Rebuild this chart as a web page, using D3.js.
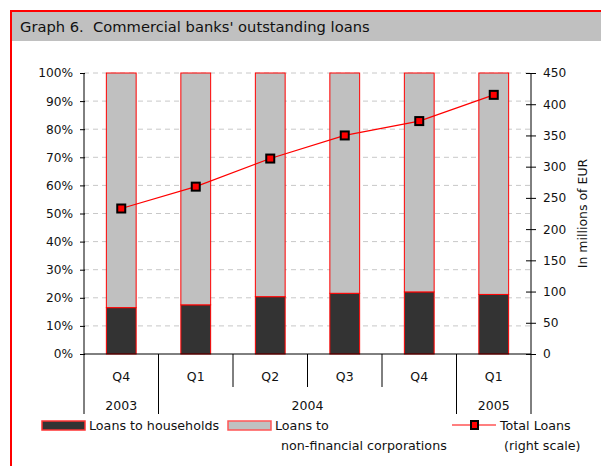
<!DOCTYPE html>
<html lang="en">
<head>
	<meta charset="UTF-8">
	<script type="text/javascript" src="https://d3js.org/d3.v7.min.js"></script>
	<title>Graph 6</title>
	<style>
		body{
			margin: 0;
			background: #fff;
		}
		text{
			font-family: "DejaVu Sans", Verdana, sans-serif;
			fill: #111;
		}
		.grid line{
			stroke: #c8c8c8;
			stroke-width: 1px;
			stroke-dasharray: 5,4;
		}
	</style>
</head>
<body>
<svg id="svg1" width="601" height="466"></svg>
<script>

	// data
	const quarters = ["Q4", "Q1", "Q2", "Q3", "Q4", "Q1"];
	const years = [
		{label: "2003", from: 0, to: 0},
		{label: "2004", from: 1, to: 4},
		{label: "2005", from: 5, to: 5}
	];
	const householdShare = [0.165, 0.175, 0.204, 0.216, 0.221, 0.212];
	const totalLoans = [233, 268, 313, 350, 373, 415];
	const pctTicks = [0, 0.1, 0.2, 0.3, 0.4, 0.5, 0.6, 0.7, 0.8, 0.9, 1];
	const eurTicks = [0, 50, 100, 150, 200, 250, 300, 350, 400, 450];

	const svg = d3.select("#svg1");

	// frame + title band
	svg.append("rect")
		.attr("x", 11).attr("y", 11)
		.attr("width", 620).attr("height", 480)
		.attr("fill", "#fff")
		.attr("stroke", "#ff0000")
		.attr("stroke-width", 2);
	svg.append("rect")
		.attr("x", 12).attr("y", 12)
		.attr("width", 600).attr("height", 29)
		.attr("fill", "#c0c0c0");
	svg.append("text")
		.attr("x", 20).attr("y", 32)
		.style("font-size", "14.7px")
		.style("white-space", "pre")
		.text("Graph 6.  Commercial banks' outstanding loans");

	const pLeft = 84, pRight = 531, pTop = 73, pBottom = 354;

	const x = d3.scaleBand()
		.domain(d3.range(quarters.length))
		.range([pLeft, pRight])
		.paddingInner(0.6)
		.paddingOuter(0.3);
	const yPct = d3.scaleLinear().domain([0, 1]).range([pBottom, pTop]);
	const yEur = d3.scaleLinear().domain([0, 450]).range([pBottom, pTop]);

	// dashed grid
	svg.append("g")
		.attr("class", "grid")
		.selectAll("line")
		.data(pctTicks.slice(1))
		.join("line")
		.attr("x1", pLeft).attr("x2", pRight)
		.attr("y1", d => yPct(d)).attr("y2", d => yPct(d));

	// stacked bars
	const stackData = householdShare.map(function (h, i) {
		return {i: i, households: h, corporations: 1 - h};
	});
	const series = d3.stack().keys(["households", "corporations"])(stackData);
	const fills = {households: "#333333", corporations: "#c0c0c0"};

	svg.append("g")
		.selectAll("g")
		.data(series)
		.join("g")
		.attr("fill", d => fills[d.key])
		.selectAll("rect")
		.data(d => d)
		.join("rect")
		.attr("x", d => x(d.data.i))
		.attr("width", x.bandwidth())
		.attr("y", d => yPct(d[1]))
		.attr("height", d => yPct(d[0]) - yPct(d[1]))
		.attr("stroke", "#ff0000")
		.attr("stroke-width", 1);

	// left axis
	const axisL = svg.append("g")
		.attr("transform", "translate(" + pLeft + ",0)")
		.call(d3.axisLeft(yPct).tickValues(pctTicks).tickFormat(d3.format(".0%")).tickSize(4).tickSizeOuter(0).tickPadding(7));
	axisL.select(".domain").remove();
	axisL.selectAll(".tick line").attr("x2", 1).attr("x1", -4).attr("stroke", "#000");
	axisL.selectAll("text").style("font-size", "12.2px").style("font-family", "DejaVu Sans").attr("fill", "#111");

	// right axis
	const axisR = svg.append("g")
		.attr("transform", "translate(" + pRight + ",0)")
		.call(d3.axisRight(yEur).tickValues(eurTicks).tickSize(5).tickSizeOuter(0).tickPadding(7));
	axisR.select(".domain").remove();
	axisR.selectAll(".tick line").attr("x1", -5).attr("x2", 5).attr("stroke", "#000");
	axisR.selectAll("text").style("font-size", "12.2px").style("font-family", "DejaVu Sans").attr("fill", "#111");

	svg.append("text")
		.attr("transform", "translate(587," + ((pTop + pBottom) / 2) + ") rotate(-90)")
		.attr("text-anchor", "middle")
		.style("font-size", "12.5px")
		.text("In millions of EUR");

	// axis lines
	svg.append("line")
		.attr("x1", pLeft).attr("x2", pLeft).attr("y1", pTop).attr("y2", pBottom)
		.attr("stroke", "#000");
	svg.append("line")
		.attr("x1", pRight).attr("x2", pRight).attr("y1", pTop).attr("y2", pBottom)
		.attr("stroke", "#000");
	svg.append("line")
		.attr("x1", pLeft).attr("x2", pRight).attr("y1", pBottom).attr("y2", pBottom)
		.attr("stroke", "#000");

	// category separators: short between quarters, long at year edges
	const step = x.step();
	const yearEdges = [0];
	years.forEach(y => yearEdges.push(y.to + 1));
	d3.range(quarters.length + 1).forEach(function (k) {
		const xx = pLeft + k * step;
		const isYear = yearEdges.indexOf(k) >= 0;
		svg.append("line")
			.attr("x1", xx).attr("x2", xx)
			.attr("y1", pBottom).attr("y2", isYear ? 414 : 387)
			.attr("stroke", "#000");
	});

	svg.append("g")
		.selectAll("text")
		.data(quarters)
		.join("text")
		.attr("x", (d, i) => x(i) + x.bandwidth() / 2)
		.attr("y", 381)
		.attr("text-anchor", "middle")
		.style("font-size", "12.5px")
		.text(d => d);

	svg.append("g")
		.selectAll("text")
		.data(years)
		.join("text")
		.attr("x", d => pLeft + ((d.from + d.to + 1) / 2) * step)
		.attr("y", 409.5)
		.attr("text-anchor", "middle")
		.style("font-size", "12.5px")
		.text(d => d.label);

	// total loans line
	const line = d3.line()
		.x((d, i) => x(i) + x.bandwidth() / 2)
		.y(d => yEur(d));
	svg.append("path")
		.datum(totalLoans)
		.attr("d", line)
		.attr("fill", "none")
		.attr("stroke", "#ff0000")
		.attr("stroke-width", 1.2);
	svg.append("g")
		.selectAll("rect")
		.data(totalLoans)
		.join("rect")
		.attr("x", (d, i) => x(i) + x.bandwidth() / 2 - 4)
		.attr("y", d => yEur(d) - 4)
		.attr("width", 8).attr("height", 8)
		.attr("fill", "#ff0000")
		.attr("stroke", "#000")
		.attr("stroke-width", 2);

	// legend
	const lg = svg.append("g");
	lg.append("rect").attr("x", 42).attr("y", 421).attr("width", 43).attr("height", 9)
		.attr("fill", "#333333").attr("stroke", "#ff3333").attr("stroke-width", 1.5);
	lg.append("text").attr("x", 89).attr("y", 430).style("font-size", "12.7px").text("Loans to households");
	lg.append("rect").attr("x", 228).attr("y", 421).attr("width", 43).attr("height", 9)
		.attr("fill", "#c0c0c0").attr("stroke", "#ff5555").attr("stroke-width", 1.5);
	lg.append("text").attr("x", 275).attr("y", 430).style("font-size", "12.7px").text("Loans to");
	lg.append("text").attr("x", 281).attr("y", 449.5).style("font-size", "12.7px").text("non-financial corporations");
	lg.append("line").attr("x1", 452).attr("x2", 496).attr("y1", 425).attr("y2", 425)
		.attr("stroke", "#ff0000").attr("stroke-width", 1.2);
	lg.append("rect").attr("x", 471).attr("y", 421).attr("width", 7).attr("height", 8)
		.attr("fill", "#ff0000").attr("stroke", "#000").attr("stroke-width", 2);
	lg.append("text").attr("x", 500).attr("y", 430).style("font-size", "12.7px").text("Total Loans");
	lg.append("text").attr("x", 504).attr("y", 449.5).style("font-size", "12.7px").text("(right scale)");

</script>
</body>
</html>
